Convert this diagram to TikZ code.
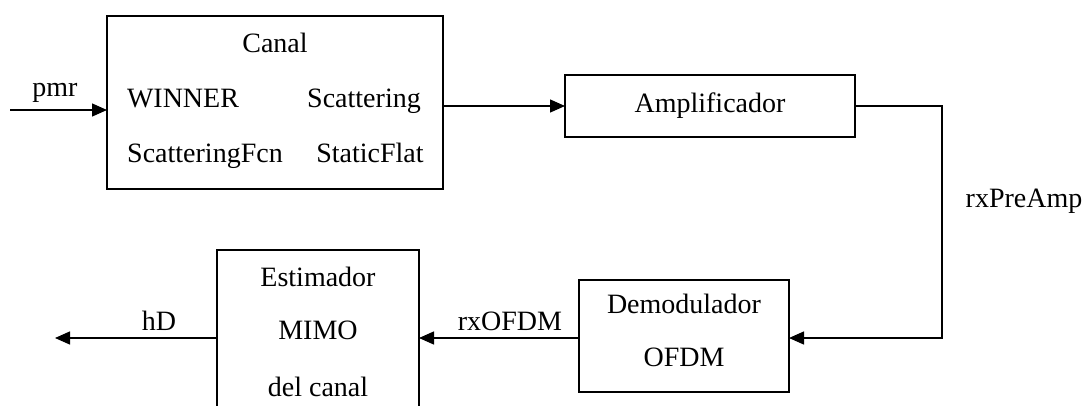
\documentclass[tikz,border=0pt]{standalone}
\usepackage{fontspec}
\setmainfont{Liberation Serif}
\usetikzlibrary{arrows.meta}
\begin{document}
\begin{tikzpicture}[x=1pt, y=-1pt, font=\fontsize{28}{33}\selectfont,
             block/.style={draw, line width=1.5pt, inner sep=0pt, outer sep=0pt},
             flow/.style={-{Triangle[length=15pt,width=13pt]}, line width=1.4pt},
             tag/.style={inner sep=0pt, text height=18pt, text depth=0pt}]
\useasboundingbox (0,0) rectangle (1086,405);
\clip (0,0) rectangle (1086,405);

% blocks
\node[block, minimum width=336pt, minimum height=173pt] (canal) at (275,102.5) {};
\node[block, minimum width=290pt, minimum height=62pt] (amp) at (710,106) {Amplificador};
\node[block, minimum width=210pt, minimum height=112pt] (demod) at (684,336) {};
\node[block, minimum width=202pt, minimum height=176pt] (est) at (318,338) {};

% texts inside the blocks
\node[tag] (canalT) at (275,43) {Canal};
\node[tag] (winner) at (183,98) {WINNER};
\node[tag] (scat) at (364,98) {Scattering};
\node[tag] (scatF) at (205,153) {ScatteringFcn};
\node[tag] (flat) at (370,153) {StaticFlat};
\node[tag] (demodA) at (684,304) {Demodulador};
\node[tag] (demodB) at (684,357) {OFDM};
\node[tag] (estA) at (318,277) {Estimador};
\node[tag] (estB) at (318,330) {MIMO};
\node[tag] (estC) at (318,387) {del canal};

% signal names
\node[tag] (pmr) at (55,87) {pmr};
\node[tag] (pre) at (1024,198) {rxPreAmp};
\node[tag] (ofdm) at (510,321) {rxOFDM};
\node[tag] (hd) at (159,321) {hD};

% connectors
\coordinate (in) at (10,110);
\coordinate (out) at (55,338);
\draw[flow] (in) -- (canal.west |- in);
\draw[flow] (canal.east |- amp.west) -- (amp.west);
\draw[flow] (amp.east) -| (942,200) |- (est.east -| demod.east);
\draw[flow] (est.east -| demod.west) -- (est.east);
\draw[flow] (est.west) -- (out);
\end{tikzpicture}
\end{document}
